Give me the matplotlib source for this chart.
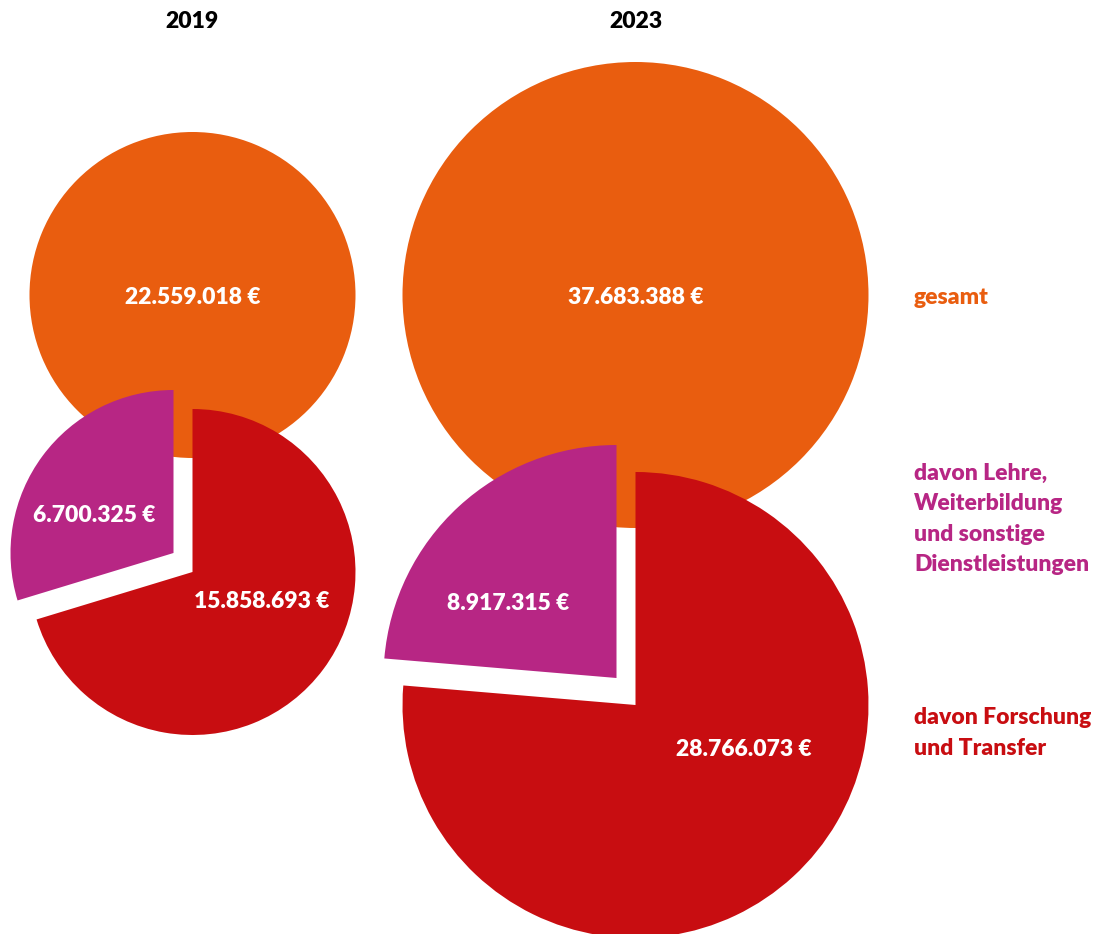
import matplotlib
matplotlib.use("Agg")
import matplotlib.pyplot as plt

plt.rcParams["font.family"] = ["Lato", "DejaVu Sans"]

W, H = 1099, 934
years = ["2019", "2023"]
gesamt = [22559018, 37683388]
lehre = [6700325, 8917315]
forschung = [15858693, 28766073]
labels = ["gesamt",
          "davon Lehre,\nWeiterbildung\nund sonstige\nDienstleistungen",
          "davon Forschung\nund Transfer"]

ORANGE = "#E95D0F"
MAGENTA = "#B72684"
RED = "#C80D11"

def eur(v):
    return f"{v:,}".replace(",", ".") + " \u20ac"

# layout (image pixel coords, y downward)
cx = [192.5, 635.5]
radius = [163, 233]
top_cy = [295, 295]
pie_cy = [572, 705]
shift = [(-19, 19), (-19, 27)]          # exploded Lehre wedge offset
lbl_lehre = [(94, 516), (508, 603)]
lbl_forsch = [(262, 602), (744, 750)]

fig = plt.figure(figsize=(W / 100, H / 100), dpi=100)
ax = fig.add_axes([0, 0, 1, 1])
fs = 16.5
fw = "heavy"

for i in range(2):
    c_top = (cx[i], H - top_cy[i])
    ax.pie([gesamt[i]], colors=[ORANGE], radius=radius[i], center=c_top,
           frame=True, wedgeprops=dict(linewidth=0))
    c_pie = (cx[i], H - pie_cy[i])
    wedges, _ = ax.pie([lehre[i], forschung[i]], colors=[MAGENTA, RED],
                       startangle=90, counterclock=True, radius=radius[i],
                       center=c_pie, frame=True, wedgeprops=dict(linewidth=0))
    wedges[0].set_center((c_pie[0] + shift[i][0], c_pie[1] + shift[i][1]))

    ax.text(cx[i], H - 22, years[i], ha="center", va="center",
            fontsize=fs, fontweight=fw, color="black")
    ax.text(cx[i], H - 297, eur(gesamt[i]), ha="center", va="center",
            fontsize=fs, fontweight=fw, color="white")
    ax.text(lbl_lehre[i][0], H - lbl_lehre[i][1], eur(lehre[i]), ha="center",
            va="center", fontsize=fs, fontweight=fw, color="white")
    ax.text(lbl_forsch[i][0], H - lbl_forsch[i][1], eur(forschung[i]),
            ha="center", va="center", fontsize=fs, fontweight=fw, color="white")

ax.text(914, H - 297, labels[0], ha="left", va="center", fontsize=fs,
        fontweight=fw, color=ORANGE)
ax.text(914, H - 519, labels[1], ha="left", va="center", fontsize=fs,
        fontweight=fw, color=MAGENTA, linespacing=1.56)
ax.text(914, H - 733, labels[2], ha="left", va="center", fontsize=fs,
        fontweight=fw, color=RED, linespacing=1.56)

ax.set_xlim(0, W)
ax.set_ylim(0, H)
ax.set_aspect("auto")
ax.axis("off")
fig.savefig("out.png", dpi=100)
